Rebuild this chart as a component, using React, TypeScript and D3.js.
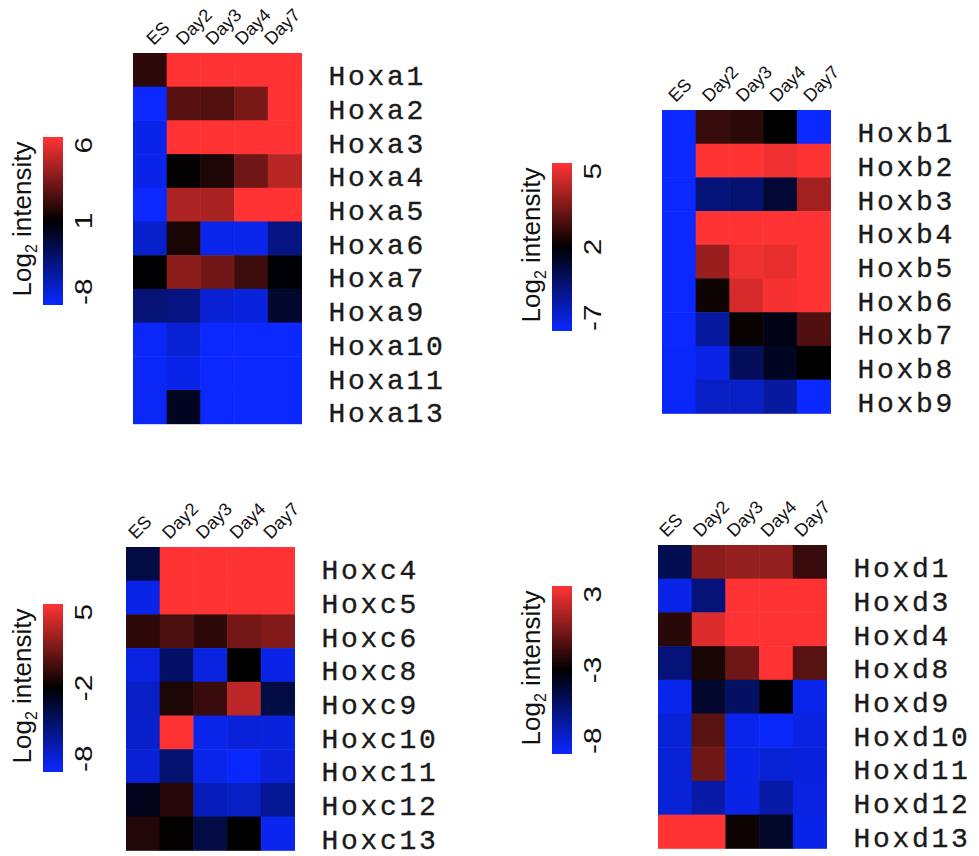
import React, { useEffect, useRef } from 'react'
import * as d3 from 'd3'

const columns = ['ES', 'Day2', 'Day3', 'Day4', 'Day7']

// Hoxa cluster, colour range -8 .. 1 .. 6
const hoxaGenes = ['Hoxa1', 'Hoxa2', 'Hoxa3', 'Hoxa4', 'Hoxa5', 'Hoxa6', 'Hoxa7', 'Hoxa9', 'Hoxa10', 'Hoxa11', 'Hoxa13']
const hoxaTicks = [-8, 1, 6]
const hoxaValues = [
  [1.9, 6, 6, 6, 6],
  [-8, 2.7, 2.6, 3.4, 6],
  [-7.2, 6, 6, 6, 6],
  [-7.2, 1.05, 1.6, 3.2, 4.6],
  [-8, 4.4, 4.3, 6, 6],
  [-6.2, 1.5, -7.3, -7.3, -3.6],
  [0.9, 3.7, 3.2, 2.2, 0.8],
  [-3.2, -3.6, -6.4, -6.8, -0.6],
  [-7.7, -6.4, -8, -8, -8],
  [-7.7, -7.2, -8, -8, -8],
  [-7.7, -0.2, -8, -8, -8]
]

// Hoxb cluster, colour range -7 .. 2 .. 5
const hoxbGenes = ['Hoxb1', 'Hoxb2', 'Hoxb3', 'Hoxb4', 'Hoxb5', 'Hoxb6', 'Hoxb7', 'Hoxb8', 'Hoxb9']
const hoxbTicks = [-7, 2, 5]
const hoxbValues = [
  [-7, 2.65, 2.5, 2, -7],
  [-7, 5, 5, 4.8, 5],
  [-7, -2.2, -1.9, 0.2, 3.9],
  [-7, 5, 5, 5, 5],
  [-7, 3.8, 4.8, 4.7, 5],
  [-7, 2.15, 4.5, 4.9, 5],
  [-7, -3.6, 2.1, 1.3, 2.95],
  [-6.8, -6.1, -1.2, 0.8, 2],
  [-6.8, -5, -5, -3.6, -7]
]

// Hoxc cluster, colour range -8 .. -2 .. 5
const hoxcGenes = ['Hoxc4', 'Hoxc5', 'Hoxc6', 'Hoxc8', 'Hoxc9', 'Hoxc10', 'Hoxc11', 'Hoxc12', 'Hoxc13']
const hoxcTicks = [-8, -2, 5]
const hoxcValues = [
  [-3.6, 5, 5, 5, 5],
  [-7.4, 5, 5, 5, 5],
  [-0.75, 0.05, -0.75, 1.15, 1.6],
  [-7.3, -4.4, -7.3, -2, -7.4],
  [-6.7, -1.2, -0.5, 3.2, -3.6],
  [-6.8, 5, -7.5, -7.1, -7.2],
  [-7, -4.6, -7.5, -7.9, -7.1],
  [-2.6, -0.9, -6.4, -6.6, -5.5],
  [-1.1, -1.9, -3.6, -2, -7.6]
]

// Hoxd cluster, colour range -8 .. -3 .. 3
const hoxdGenes = ['Hoxd1', 'Hoxd3', 'Hoxd4', 'Hoxd8', 'Hoxd9', 'Hoxd10', 'Hoxd11', 'Hoxd12', 'Hoxd13']
const hoxdTicks = [-8, -3, 3]
const hoxdValues = [
  [-4.6, 0.3, 0.5, 0.5, -1.7],
  [-7.5, -5.35, 3, 3, 3],
  [-2.05, 2.2, 3, 3, 3],
  [-5.35, -2.4, -0.4, 3, -0.9],
  [-7.6, -3.9, -4.95, -3, -7.6],
  [-7.2, -0.9, -7.6, -7.9, -7.4],
  [-7.2, -0.4, -7.5, -7.2, -7.3],
  [-7.2, -6.3, -7.5, -6.3, -7.4],
  [3, 3, -2.7, -3.8, -7.5]
]

const BLUE = '#0a28ff'
const RED = '#ff3333'
const CELL = 33.7

// where each panel sits on the page (shift = nudge of first/last column label)
const panels = [
  { id: 'a', genes: hoxaGenes, values: hoxaValues, ticks: hoxaTicks, hx: 133, hy: 53, cx: 43, cy: 137, shift: [7, -10] },
  { id: 'b', genes: hoxbGenes, values: hoxbValues, ticks: hoxbTicks, hx: 662, hy: 110, cx: 552, cy: 163, shift: [0, 0] },
  { id: 'c', genes: hoxcGenes, values: hoxcValues, ticks: hoxcTicks, hx: 126, hy: 547, cx: 43, cy: 604, shift: [-4, -4] },
  { id: 'd', genes: hoxdGenes, values: hoxdValues, ticks: hoxdTicks, hx: 658, hy: 545, cx: 552, cy: 586, shift: [-5, -5] }
]

function drawPanel(svg, p) {
  const [lo, mid, hi] = p.ticks
  const g = svg.append('g')

  const x = d3.scaleBand().domain(columns).range([p.hx, p.hx + CELL * columns.length])
  const y = d3.scaleBand().domain(p.genes).range([p.hy, p.hy + CELL * p.genes.length])

  const color = d3
    .scaleLinear<string>()
    .domain([lo, mid, hi])
    .range([BLUE, '#000000', RED])
    .interpolate(d3.interpolateRgb)
    .clamp(true)

  // cells
  p.genes.forEach((gene, i) => {
    g.selectAll(null)
      .data(p.values[i])
      .enter()
      .append('rect')
      .attr('x', (d, j) => x(columns[j]))
      .attr('y', y(gene))
      .attr('width', x.bandwidth() + 0.5)
      .attr('height', y.bandwidth() + 0.5)
      .attr('fill', d => color(d))
  })

  // column labels
  const first = x(columns[0]) + x.bandwidth() / 2
  const last = x(columns[columns.length - 1]) + x.bandwidth() / 2
  const lx = d3.scalePoint().domain(columns).range([first + p.shift[0], last + p.shift[1]])
  g.selectAll(null)
    .data(columns)
    .enter()
    .append('text')
    .attr('transform', d => `translate(${lx(d) - 3},${p.hy - 7}) rotate(-45)`)
    .attr('font-family', 'Arial, "Liberation Sans", sans-serif')
    .attr('font-size', 18)
    .attr('fill', '#111')
    .text(d => d)

  // gene labels
  g.selectAll(null)
    .data(p.genes)
    .enter()
    .append('text')
    .attr('x', p.hx + CELL * columns.length + 27)
    .attr('y', d => y(d) + y.bandwidth() - 1.5)
    .attr('font-family', '"Courier New", "Liberation Mono", monospace')
    .attr('font-size', 28)
    .attr('letter-spacing', 2.7)
    .attr('fill', '#1a1a1a')
    .attr('stroke', '#1a1a1a')
    .attr('stroke-width', 0.35)
    .text(d => d)

  // colour bar
  const barH = 168
  const barW = 20
  const cy = d3.scaleLinear().domain([lo, mid, hi]).range([p.cy + barH, p.cy + barH / 2, p.cy])
  const gradId = `grad-${p.id}`
  const grad = svg
    .append('defs')
    .append('linearGradient')
    .attr('id', gradId)
    .attr('x1', 0)
    .attr('y1', 1)
    .attr('x2', 0)
    .attr('y2', 0)
  grad
    .selectAll('stop')
    .data(d3.range(0, 1.0001, 0.05))
    .enter()
    .append('stop')
    .attr('offset', t => t)
    .attr('stop-color', t => color(cy.invert(p.cy + barH - t * barH)))

  g.append('rect')
    .attr('x', p.cx)
    .attr('y', p.cy)
    .attr('width', barW)
    .attr('height', barH)
    .attr('fill', `url(#${gradId})`)

  // tick labels: bottom, middle, top
  const anchors = ['start', 'middle', 'end']
  g.selectAll(null)
    .data(p.ticks)
    .enter()
    .append('text')
    .attr('transform', d => `translate(${p.cx + barW + 29},${cy(d)}) rotate(-90) scale(1.3,1)`)
    .attr('text-anchor', (d, i) => anchors[i])
    .attr('font-family', 'Arial, "Liberation Sans", sans-serif')
    .attr('font-size', 23)
    .attr('fill', '#111')
    .text(d => d)

  // axis title
  const title = g
    .append('text')
    .attr('transform', `translate(${p.cx - 12},${p.cy + barH / 2 - 2}) rotate(-90)`)
    .attr('text-anchor', 'middle')
    .attr('font-family', 'Arial, "Liberation Sans", sans-serif')
    .attr('font-size', 26)
    .attr('fill', '#111')
  title.append('tspan').text('Log')
  title.append('tspan').attr('font-size', 16).attr('dy', 6).text('2')
  title.append('tspan').attr('dy', -6).text(' intensity')
}

export default function App() {
  const ref = useRef(null)

  useEffect(() => {
    const svg = d3.select(ref.current)
    svg.selectAll('*').remove()
    panels.forEach(p => drawPanel(svg, p))
  }, [])

  return (
    <svg
      ref={ref}
      width={979}
      height={856}
      style={{ position: 'absolute', left: 0, top: 0, background: '#fff' }}
    />
  )
}
